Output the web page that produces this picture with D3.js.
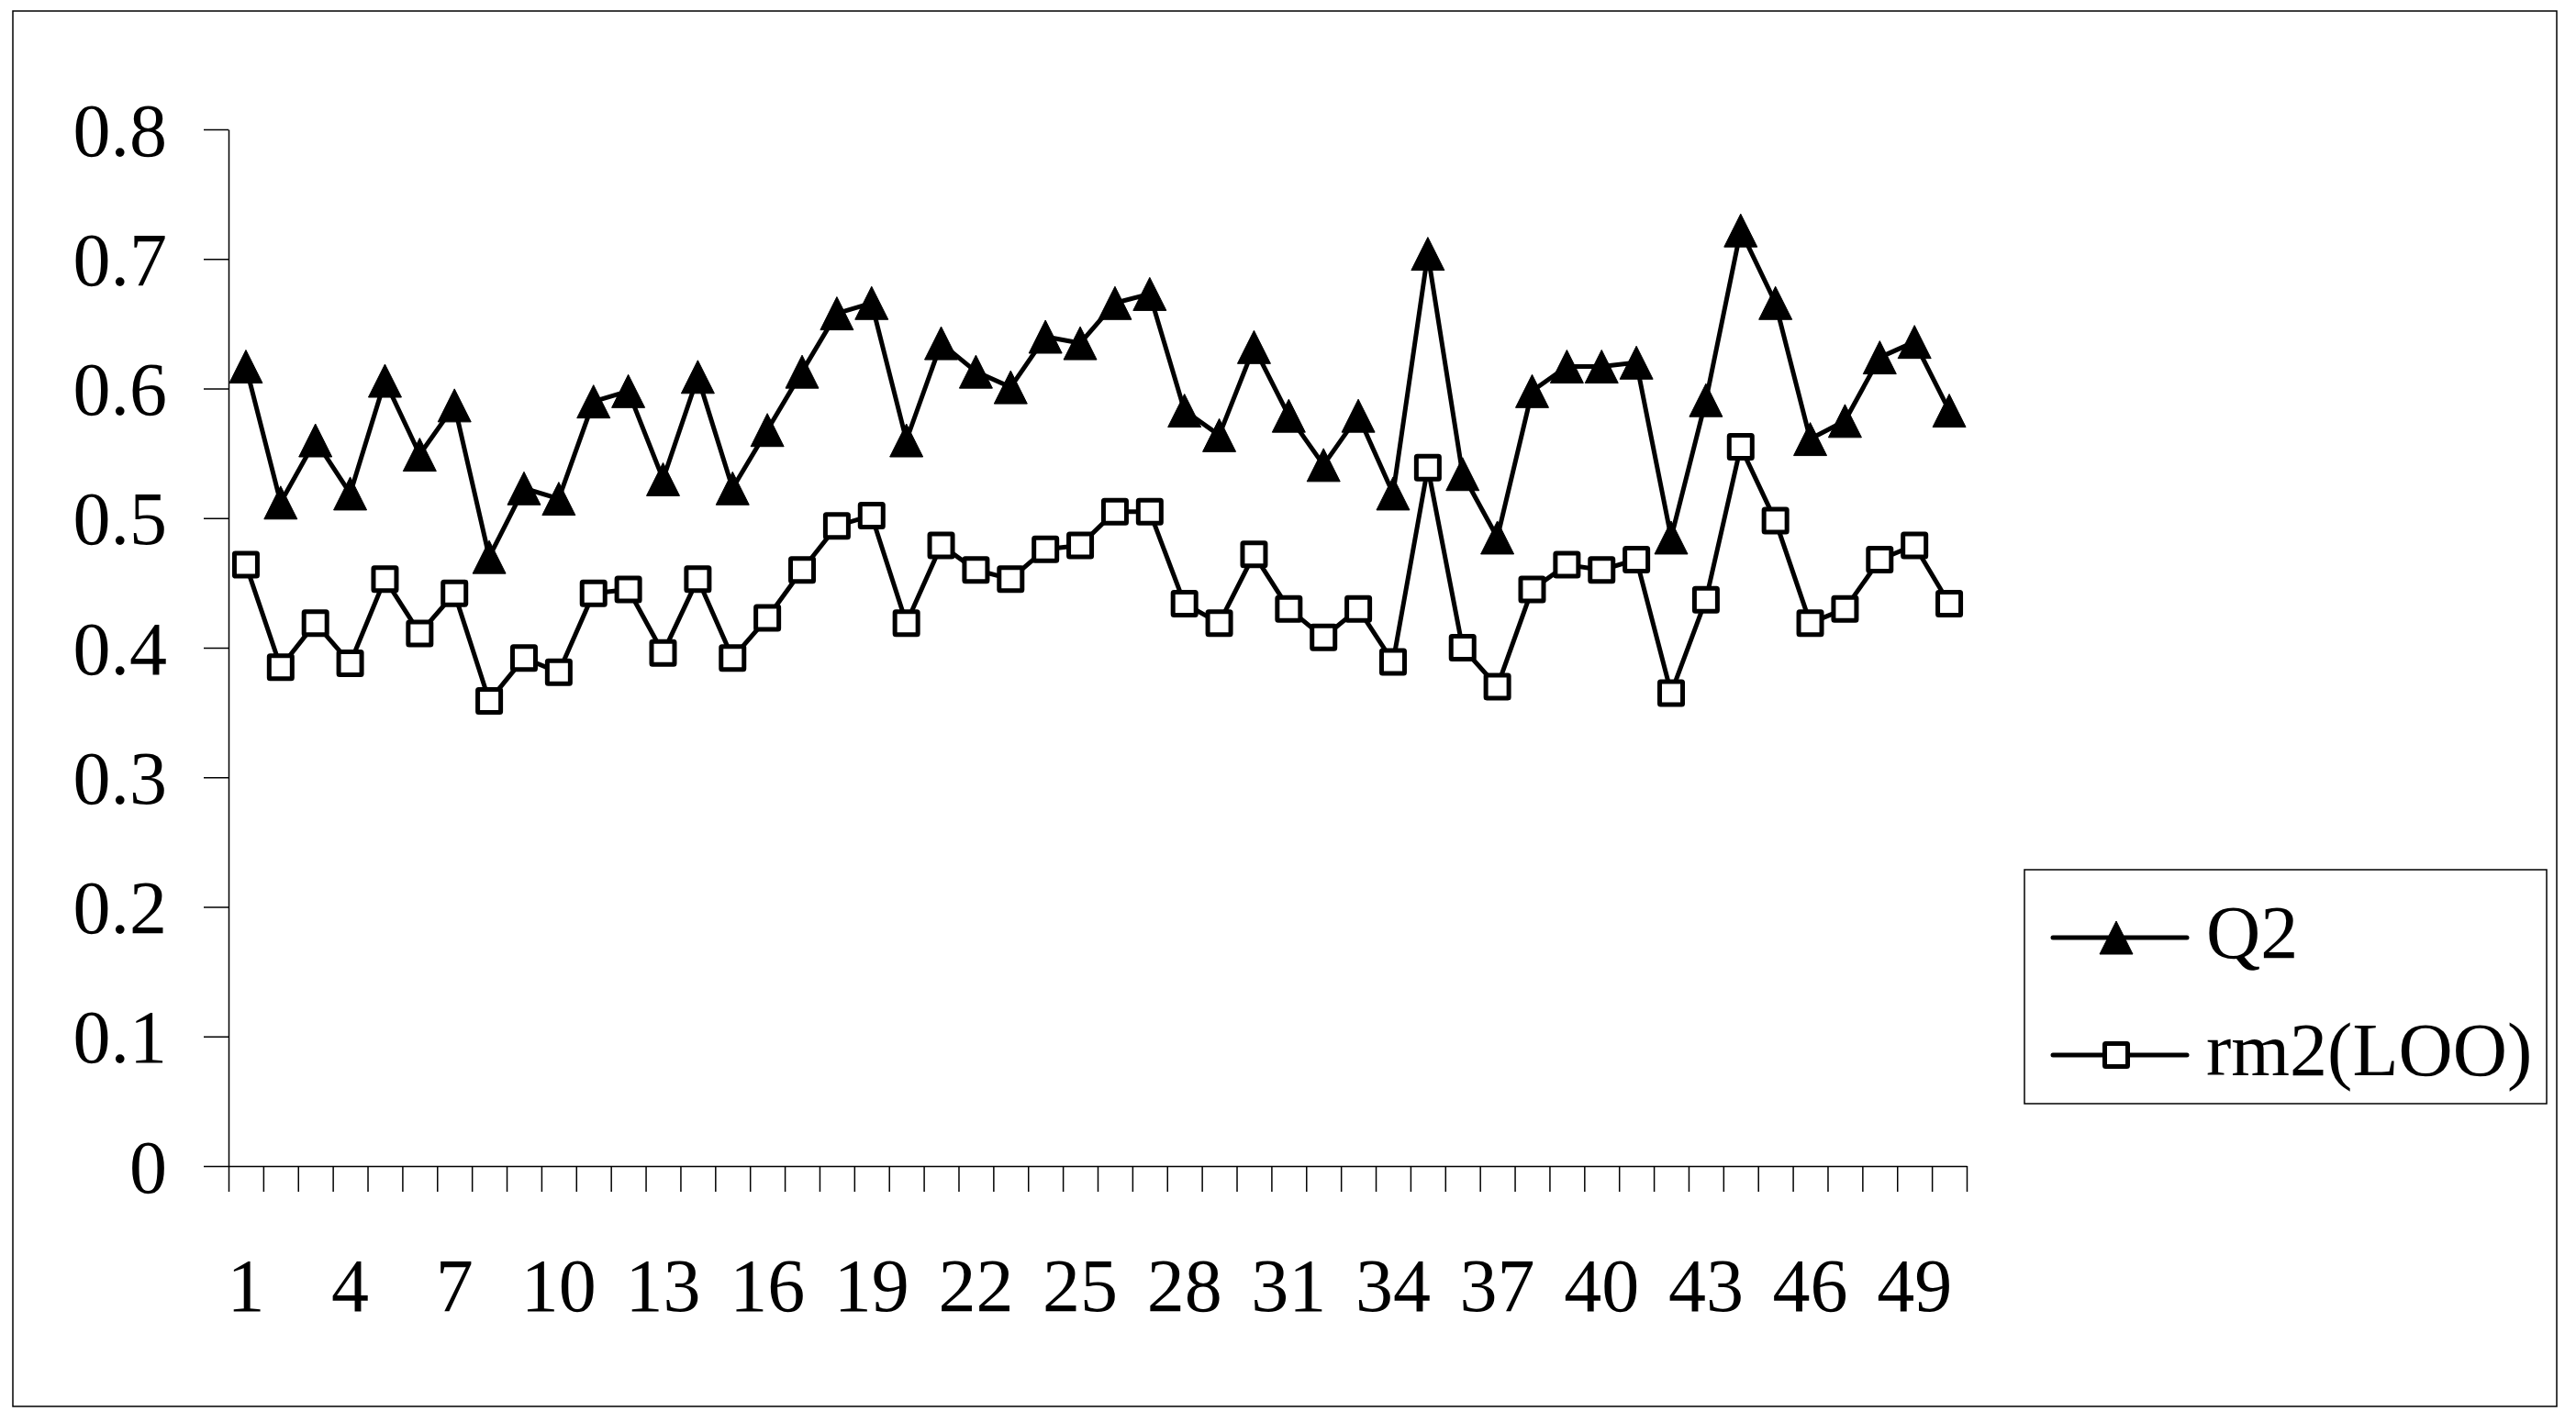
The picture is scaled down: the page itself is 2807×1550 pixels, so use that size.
<!DOCTYPE html>
<html>
<head>
<meta charset="utf-8">
<script src="https://cdn.jsdelivr.net/npm/d3@7"></script>
<style>
html,body{margin:0;padding:0;background:#fff;}
svg{display:block;}
text{font-family:"Liberation Serif","Times New Roman",serif;fill:#000;}
</style>
</head>
<body>
<script>
const categories = d3.range(1, 51);
const q2 = [0.617,0.512,0.560,0.519,0.606,0.549,0.587,0.470,0.523,0.515,
            0.590,0.598,0.530,0.609,0.523,0.568,0.613,0.658,0.666,0.560,
            0.635,0.613,0.601,0.640,0.635,0.666,0.673,0.583,0.564,0.632,
            0.579,0.541,0.579,0.519,0.704,0.534,0.485,0.598,0.617,0.617,
            0.620,0.485,0.591,0.722,0.666,0.561,0.575,0.624,0.636,0.583];
const rm2 = [0.464,0.385,0.419,0.388,0.453,0.411,0.442,0.359,0.392,0.381,
             0.442,0.445,0.396,0.453,0.392,0.423,0.460,0.494,0.502,0.419,
             0.479,0.460,0.453,0.476,0.479,0.505,0.505,0.434,0.419,0.472,
             0.430,0.408,0.430,0.389,0.539,0.400,0.370,0.445,0.464,0.460,
             0.468,0.365,0.437,0.555,0.498,0.419,0.430,0.468,0.479,0.434];
const yTicks = [0,0.1,0.2,0.3,0.4,0.5,0.6,0.7,0.8];
const xLabels = d3.range(1, 51, 3);
const seriesNames = ["Q2", "rm2(LOO)"];

const W = 2807, H = 1550;
const svg = d3.select("body").append("svg").attr("width", W).attr("height", H);

// outer border
svg.append("rect").attr("x", 14).attr("y", 12).attr("width", 2786 - 14).attr("height", 1533 - 12)
  .attr("fill", "none").attr("stroke", "#000").attr("stroke-width", 1.5);

const x0 = 249, x1 = 2143, yTop = 141, yBot = 1271;
const x = d3.scaleBand().domain(categories).range([x0, x1]).padding(0);
const xb = d3.scaleLinear().domain([0, 50]).range([x0, x1]);
const y = d3.scaleLinear().domain([0, 0.8]).range([yBot, yTop]);

// y axis
const ya = svg.append("g").attr("transform", `translate(${x0},0)`)
  .call(d3.axisLeft(y).tickValues(yTicks).tickFormat(d => d === 0 ? "0" : d3.format(".1f")(d))
    .tickSize(27).tickSizeOuter(0).tickPadding(40));
ya.select(".domain").attr("stroke", "#000").attr("stroke-width", 1.5);
ya.selectAll(".tick line").attr("stroke", "#000").attr("stroke-width", 1.5);
ya.selectAll(".tick text").attr("font-size", 82).attr("font-family", '"Liberation Serif","Times New Roman",serif')
  .attr("dy", 28);

// x axis ticks at category boundaries
const xa = svg.append("g").attr("transform", `translate(0,${yBot})`)
  .call(d3.axisBottom(xb).tickValues(d3.range(0, 51)).tickFormat("").tickSize(28).tickSizeOuter(0));
xa.select(".domain").attr("stroke", "#000").attr("stroke-width", 1.5);
xa.selectAll(".tick line").attr("stroke", "#000").attr("stroke-width", 1.5);

// x labels
svg.append("g").selectAll("text").data(xLabels).join("text")
  .attr("x", d => x(d) + x.bandwidth() / 2)
  .attr("y", 1429)
  .attr("text-anchor", "middle")
  .attr("font-size", 82)
  .text(d => d);

const cx = d => x(d) + x.bandwidth() / 2;
const line = d3.line().x((d, i) => cx(categories[i])).y(d => y(d));

svg.append("path").datum(rm2).attr("d", line).attr("fill", "none")
  .attr("stroke", "#000").attr("stroke-width", 5).attr("stroke-linejoin", "round");
svg.append("path").datum(q2).attr("d", line).attr("fill", "none")
  .attr("stroke", "#000").attr("stroke-width", 5).attr("stroke-linejoin", "round");

const tri = "M0,-18L18,18L-18,18Z";
function drawTri(g, px, py) {
  g.append("path").attr("d", tri).attr("transform", `translate(${px},${py})`)
    .attr("fill", "#000").attr("stroke", "#000").attr("stroke-width", 1).attr("stroke-linejoin", "round");
}
function drawSq(g, px, py) {
  g.append("rect").attr("x", px - 12.5).attr("y", py - 12.5).attr("width", 25).attr("height", 25)
    .attr("fill", "#fff").attr("stroke", "#000").attr("stroke-width", 5).attr("rx", 1);
}

const gs = svg.append("g");
rm2.forEach((v, i) => drawSq(gs, cx(categories[i]), y(v)));
const gt = svg.append("g");
q2.forEach((v, i) => drawTri(gt, cx(categories[i]), y(v)));

// legend
const lg = svg.append("g");
lg.append("rect").attr("x", 2206).attr("y", 948).attr("width", 2775 - 2206).attr("height", 1203 - 948)
  .attr("fill", "#fff").attr("stroke", "#000").attr("stroke-width", 1.5);
const ly = [1022, 1150];
ly.forEach((yy, i) => {
  lg.append("line").attr("x1", 2237).attr("x2", 2383).attr("y1", yy).attr("y2", yy)
    .attr("stroke", "#000").attr("stroke-width", 5).attr("stroke-linecap", "round");
  if (i === 0) drawTri(lg, 2306, yy); else drawSq(lg, 2306, yy);
  lg.append("text").attr("x", 2404).attr("y", yy + 22 ).attr("font-size", 82).text(seriesNames[i]);
});
</script>
</body>
</html>
